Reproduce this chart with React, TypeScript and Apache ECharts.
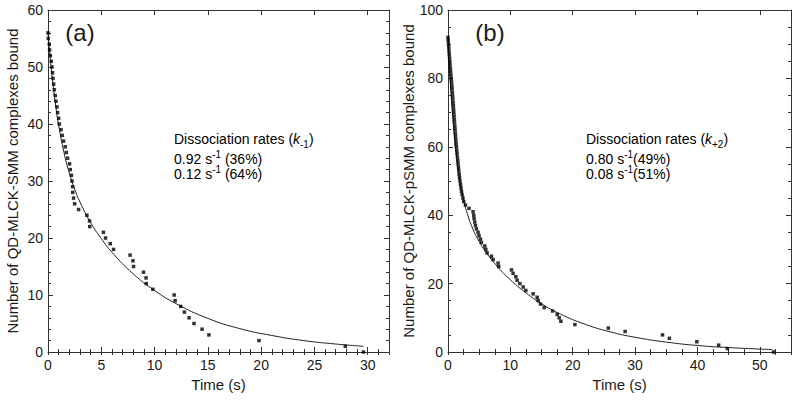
import React, { useEffect, useRef } from 'react';
import * as echarts from 'echarts';

// Panel (a): QD-MLCK-SMM
const aTime = [0.0, 0.02, 0.12, 0.15, 0.22, 0.31, 0.37, 0.43, 0.47, 0.53, 0.59, 0.68, 0.75, 0.84, 0.9, 1.0, 1.06, 1.22, 1.34, 1.46, 1.62, 1.72, 1.84, 2.02, 2.09, 2.2, 2.25, 2.31, 2.32, 2.4, 2.5, 2.87, 3.65, 3.9, 3.92, 5.2, 5.4, 5.84, 6.15, 7.7, 7.97, 8.03, 8.96, 9.2, 9.22, 9.84, 11.84, 11.93, 12.46, 12.8, 13.24, 13.7, 14.46, 15.1, 19.8, 27.9, 29.6];
const aCount = [56, 55, 54, 53, 52, 51, 50, 49, 48, 47, 46, 45, 44, 43, 42, 41, 40, 39, 38, 37, 36, 35, 34, 33, 32, 31, 30, 29, 28, 27, 26, 25, 24, 23, 22, 21, 20, 19, 18, 17, 16, 15, 14, 13, 12, 11, 10, 9, 8, 7, 6, 5, 4, 3, 2, 1, 0];
const aFitTime = [0, 0.25, 0.5, 0.75, 1, 1.5, 2, 2.5, 3, 4, 5, 6, 8, 10, 12, 15, 18, 21, 24, 27, 29.6];
const aFitValue = [56.0, 50.8, 46.5, 42.9, 39.8, 35.0, 31.4, 28.6, 26.3, 22.7, 19.9, 17.5, 13.7, 10.8, 8.5, 5.9, 4.1, 2.9, 2.0, 1.4, 1.0];

// Panel (b): QD-MLCK-pSMM
const bTime = [0.0, 0.03, 0.07, 0.12, 0.16, 0.2, 0.25, 0.29, 0.33, 0.38, 0.42, 0.47, 0.52, 0.57, 0.61, 0.66, 0.7, 0.74, 0.78, 0.82, 0.86, 0.9, 0.94, 0.98, 1.02, 1.06, 1.1, 1.14, 1.18, 1.22, 1.26, 1.3, 1.35, 1.4, 1.46, 1.51, 1.57, 1.62, 1.68, 1.73, 1.79, 1.85, 1.92, 2.0, 2.08, 2.16, 2.26, 2.4, 2.52, 2.8, 3.37, 4.02, 4.13, 4.18, 4.29, 4.4, 4.56, 4.82, 4.98, 5.2, 5.36, 5.9, 6.06, 6.27, 6.97, 7.23, 8.03, 8.14, 10.18, 10.44, 10.88, 11.08, 11.52, 12.05, 12.48, 13.65, 14.3, 14.46, 14.84, 15.42, 16.77, 17.51, 17.83, 18.1, 20.35, 25.7, 28.4, 34.4, 35.5, 39.9, 43.4, 44.8, 52.2];
const bCount = [92, 91, 90, 89, 88, 87, 86, 85, 84, 83, 82, 81, 80, 79, 78, 77, 76, 75, 74, 73, 72, 71, 70, 69, 68, 67, 66, 65, 64, 63, 62, 61, 60, 59, 58, 57, 56, 55, 54, 53, 52, 51, 50, 49, 48, 47, 46, 45, 44, 43, 42, 41, 40, 39, 38, 37, 36, 35, 34, 33, 32, 31, 30, 29, 28, 27, 26, 25, 24, 23, 22, 21, 20, 19, 18, 17, 16, 15, 14, 13, 12, 11, 10, 9, 8, 7, 6, 5, 4, 3, 2, 1, 0];
const bFitTime = [0, 0.25, 0.5, 0.75, 1, 1.5, 2, 2.5, 3, 4, 5, 6, 8, 10, 12, 15, 18, 22, 26, 30, 35, 40, 45, 52];
const bFitValue = [92, 82.9, 75.3, 68.9, 63.6, 55.2, 49.1, 44.5, 41.0, 35.9, 32.3, 29.4, 24.8, 21.1, 18.0, 14.1, 11.1, 8.1, 5.9, 4.3, 2.9, 1.9, 1.3, 0.7];

const FONT = '"Liberation Sans", Arial, Helvetica, sans-serif';
const AXIS = '#333';
const TEXT = '#1a1a1a';

function pairs(xs: number[], ys: number[]) {
  return xs.map((x, i) => [x, ys[i]]);
}

function xAxes(grid: number, max: number, major: number, minor: number) {
  const line = { show: true, onZero: false, lineStyle: { color: AXIS, width: 1 } };
  const common = { type: 'value', gridIndex: grid, min: 0, max, splitLine: { show: false } };
  return [
    {
      ...common, position: 'bottom', interval: major, axisLine: line,
      axisTick: { show: true, inside: true, length: 5, lineStyle: { color: AXIS } },
      axisLabel: {
        show: true, margin: 6, fontSize: 14, color: TEXT, fontFamily: FONT,
        formatter: (v: number) => (Math.abs(v / major - Math.round(v / major)) < 1e-9 ? String(v) : ''),
      },
      name: 'Time (s)', nameLocation: 'middle', nameGap: 25,
      nameTextStyle: { fontSize: 15, color: TEXT, fontFamily: FONT },
    },
    {
      ...common, position: 'bottom', interval: minor, axisLine: { show: false },
      axisTick: { show: true, inside: true, length: 3, lineStyle: { color: AXIS } },
      axisLabel: { show: false },
    },
    {
      ...common, position: 'top', interval: major, axisLine: line,
      axisTick: { show: true, inside: true, length: 5, lineStyle: { color: AXIS } },
      axisLabel: { show: false },
    },
    {
      ...common, position: 'top', interval: minor, axisLine: { show: false },
      axisTick: { show: true, inside: true, length: 3, lineStyle: { color: AXIS } },
      axisLabel: { show: false },
    },
  ];
}

function yAxes(grid: number, max: number, major: number, minorSplit: number, name: string) {
  const line = { show: true, onZero: false, lineStyle: { color: AXIS, width: 1 } };
  const common = {
    type: 'value', gridIndex: grid, min: 0, max, interval: major, splitLine: { show: false },
    axisTick: { show: true, inside: true, length: 5, lineStyle: { color: AXIS } },
    minorTick: { show: true, splitNumber: minorSplit, length: 3, lineStyle: { color: AXIS } },
    axisLine: line,
  };
  return [
    {
      ...common, position: 'left',
      axisLabel: { show: true, margin: 5, fontSize: 14, color: TEXT, fontFamily: FONT },
      name, nameLocation: 'middle', nameGap: 28, nameRotate: 90,
      nameTextStyle: { fontSize: 15, color: TEXT, fontFamily: FONT },
    },
    { ...common, position: 'right', axisLabel: { show: false } },
  ];
}

const rich = {
  n: { fontSize: 14, fontFamily: FONT, color: TEXT, lineHeight: 20 },
  i: { fontSize: 14, fontFamily: FONT, color: TEXT, fontStyle: 'italic', lineHeight: 20 },
  sub: { fontSize: 10, fontFamily: FONT, color: TEXT, verticalAlign: 'bottom', lineHeight: 12 },
  sup: { fontSize: 10, fontFamily: FONT, color: TEXT, verticalAlign: 'top', lineHeight: 12 },
};

function annotation(x: number, subText: string, r1: string, p1: string, r2: string, p2: string) {
  return [
    { type: 'text', x, y: 139, style: { text: `{n|Dissociation rates (}{i|k}{sub|${subText}}{n|)}`, rich, verticalAlign: 'middle', align: 'left' } },
    { type: 'text', x, y: 159, style: { text: `{n|${r1} s}{sup|-1}{n|${p1}}`, rich, verticalAlign: 'middle', align: 'left' } },
    { type: 'text', x, y: 174, style: { text: `{n|${r2} s}{sup|-1}{n|${p2}}`, rich, verticalAlign: 'middle', align: 'left' } },
  ];
}

export default function App() {
  const ref = useRef<HTMLDivElement>(null);
  useEffect(() => {
    if (!ref.current) return;
    const chart = echarts.init(ref.current, undefined, { renderer: 'svg' });
    const option: any = {
      animation: false,
      backgroundColor: '#ffffff',
      grid: [
        { left: 48, right: 411, top: 10, bottom: 48 },
        { left: 448, right: 9, top: 10, bottom: 48 },
      ],
      xAxis: [...xAxes(0, 32, 5, 1), ...xAxes(1, 55, 10, 2.5)],
      yAxis: [
        ...yAxes(0, 60, 10, 5, 'Number of QD-MLCK-SMM complexes bound'),
        ...yAxes(1, 100, 20, 4, 'Number of QD-MLCK-pSMM complexes bound'),
      ],
      series: [
        {
          type: 'scatter', xAxisIndex: 0, yAxisIndex: 0, data: pairs(aTime, aCount),
          symbol: 'rect', symbolSize: 3.5, itemStyle: { color: '#000' }, z: 3,
        },
        {
          type: 'line', xAxisIndex: 0, yAxisIndex: 0, data: pairs(aFitTime, aFitValue),
          showSymbol: false, smooth: true, lineStyle: { color: '#222', width: 1 }, z: 2,
        },
        {
          type: 'scatter', xAxisIndex: 4, yAxisIndex: 2, data: pairs(bTime, bCount),
          symbol: 'rect', symbolSize: 3.5, itemStyle: { color: '#000' }, z: 3,
        },
        {
          type: 'line', xAxisIndex: 4, yAxisIndex: 2, data: pairs(bFitTime, bFitValue),
          showSymbol: false, smooth: true, lineStyle: { color: '#222', width: 1 }, z: 2,
        },
      ],
      graphic: [
        { type: 'text', x: 80, y: 32, style: { text: '(a)', fontSize: 24, fontFamily: FONT, fill: TEXT, align: 'center', verticalAlign: 'middle' } },
        { type: 'text', x: 490, y: 32, style: { text: '(b)', fontSize: 24, fontFamily: FONT, fill: TEXT, align: 'center', verticalAlign: 'middle' } },
        ...annotation(174, '-1', '0.92', ' (36%)', '0.12', ' (64%)'),
        ...annotation(586, '+2', '0.80', '(49%)', '0.08', '(51%)'),
      ],
    };
    chart.setOption(option);
    return () => chart.dispose();
  }, []);
  return <div ref={ref} style={{ position: 'absolute', left: 0, top: 0, width: 800, height: 400 }} />;
}
